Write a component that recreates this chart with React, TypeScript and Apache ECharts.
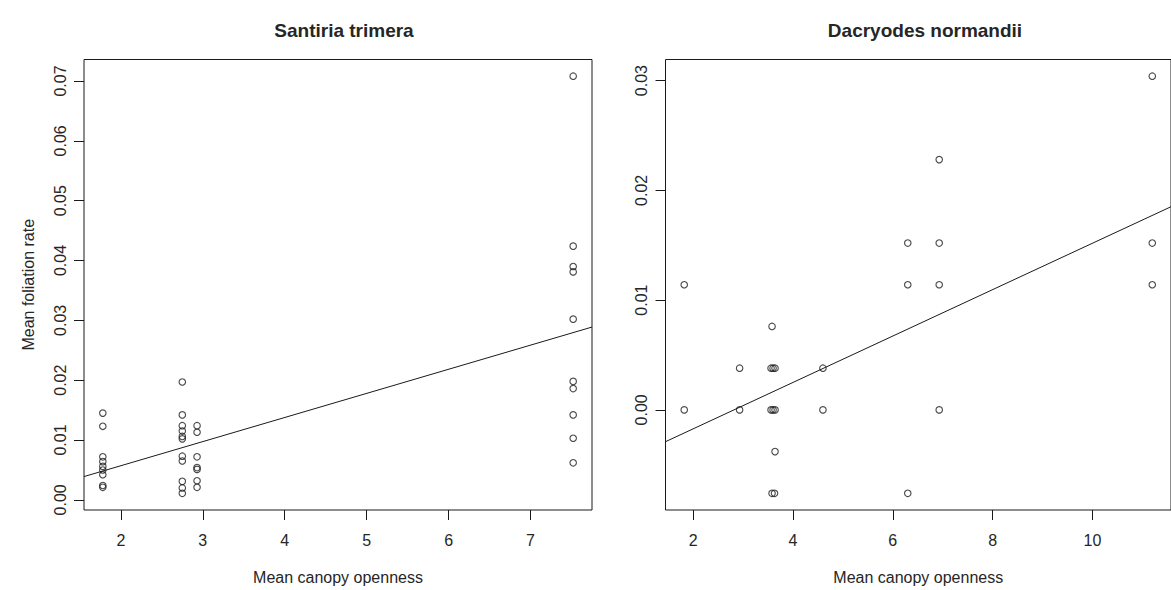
import React, { useEffect, useRef } from "react";
import * as echarts from "echarts";

// Santiria trimera
const santiriaOpenness = [
  1.78, 1.78, 1.78, 1.78, 1.78, 1.78, 1.78, 1.78, 1.78,
  2.75, 2.75, 2.75, 2.75, 2.75, 2.75, 2.75, 2.75, 2.75, 2.75, 2.75,
  2.93, 2.93, 2.93, 2.93, 2.93, 2.93, 2.93,
  7.52, 7.52, 7.52, 7.52, 7.52, 7.52, 7.52, 7.52, 7.52, 7.52,
];
const santiriaFoliation = [
  0.0145, 0.0123, 0.0072, 0.0064, 0.0056, 0.005, 0.0042, 0.0024, 0.0021,
  0.0197, 0.0142, 0.0124, 0.0115, 0.0106, 0.0102, 0.0073, 0.0065, 0.0031, 0.002, 0.0011,
  0.0124, 0.0113, 0.0072, 0.0054, 0.0051, 0.0032, 0.0021,
  0.0708, 0.0424, 0.039, 0.0381, 0.0302, 0.0198, 0.0186, 0.0142, 0.0103, 0.0062,
];
const santiriaFit = [-0.00235, 0.00403]; // intercept, slope
const santiriaXTicks = [2, 3, 4, 5, 6, 7];
const santiriaYTicks = [0, 0.01, 0.02, 0.03, 0.04, 0.05, 0.06, 0.07];

// Dacryodes normandii
const dacryodesOpenness = [
  1.82, 1.82, 2.93, 2.93, 3.56, 3.6, 3.64, 3.56, 3.6, 3.64, 3.64, 3.58, 3.63, 3.58,
  4.6, 4.6, 6.3, 6.3, 6.3, 6.93, 6.93, 6.93, 6.93, 11.2, 11.2, 11.2,
];
const dacryodesFoliation = [
  0.0114, 0, 0.0038, 0, 0.0038, 0.0038, 0.0038, 0, 0, 0, -0.0038, -0.0076, -0.0076, 0.0076,
  0.0038, 0, 0.0152, 0.0114, -0.0076, 0.0228, 0.0152, 0.0114, 0, 0.0304, 0.0152, 0.0114,
];
const dacryodesFit = [-0.00595, 0.002113];
const dacryodesXTicks = [2, 4, 6, 8, 10];
const dacryodesYTicks = [0, 0.01, 0.02, 0.03];

const titles = ["Santiria trimera", "Dacryodes normandii"];
const xTitle = "Mean canopy openness";
const yTitle = "Mean foliation rate";

function rRange(v: number[]): [number, number] {
  const lo = Math.min(...v);
  const hi = Math.max(...v);
  const d = (hi - lo) * 0.04;
  return [lo - d, hi + d];
}

const FONT = "Liberation Sans, Arial, sans-serif";
const INK = "#1a1a1a";
const TXT = "#262626";

export default function App() {
  const ref = useRef<HTMLDivElement>(null);
  useEffect(() => {
    if (!ref.current) return;
    const chart = echarts.init(ref.current, null, { renderer: "svg" });
    const panels = [
      { x: santiriaOpenness, y: santiriaFoliation, fit: santiriaFit, xt: santiriaXTicks, yt: santiriaYTicks },
      { x: dacryodesOpenness, y: dacryodesFoliation, fit: dacryodesFit, xt: dacryodesXTicks, yt: dacryodesYTicks },
    ];
    const grids = [
      { left: 84, top: 59.5, width: 508, height: 452.5 },
      { left: 665.5, top: 59.5, width: 508.5, height: 452.5 },
    ];
    const xAxis: any[] = [];
    const yAxis: any[] = [];
    const series: any[] = [];
    panels.forEach((p, i) => {
      const [xmin, xmax] = rRange(p.x);
      const [ymin, ymax] = rRange(p.y);
      xAxis.push({
        type: "value",
        gridIndex: i,
        min: xmin,
        max: xmax,
        name: xTitle,
        nameLocation: "middle",
        nameGap: 59,
        nameTextStyle: { fontFamily: FONT, fontSize: 16, color: TXT },
        axisLine: { show: false, onZero: false },
        splitLine: { show: false },
        axisTick: { show: true, length: 10, lineStyle: { color: INK }, customValues: p.xt },
        axisLabel: {
          show: true,
          margin: 22,
          fontFamily: FONT,
          fontSize: 16,
          color: TXT,
          customValues: p.xt,
          formatter: (v: number) => String(v),
        },
      });
      yAxis.push({
        type: "value",
        gridIndex: i,
        min: ymin,
        max: ymax,
        name: i === 0 ? yTitle : "",
        nameLocation: "middle",
        nameGap: 48,
        nameRotate: 90,
        nameTextStyle: { fontFamily: FONT, fontSize: 16, color: TXT },
        axisLine: { show: false, onZero: false },
        splitLine: { show: false },
        axisTick: { show: true, length: 10, lineStyle: { color: INK }, customValues: p.yt },
        axisLabel: {
          show: true,
          rotate: 90,
          margin: 16,
          fontFamily: FONT,
          fontSize: 16,
          color: TXT,
          customValues: p.yt,
          formatter: (v: number) => v.toFixed(2),
        },
      });
      series.push({
        type: "scatter",
        xAxisIndex: i,
        yAxisIndex: i,
        symbol: "circle",
        symbolSize: 6.5,
        itemStyle: { color: "rgba(0,0,0,0)", borderColor: INK, borderWidth: 1.1 },
        data: p.x.map((xv, k) => [xv, p.y[k]]),
        silent: true,
      });
      series.push({
        type: "line",
        xAxisIndex: i,
        yAxisIndex: i,
        showSymbol: false,
        symbol: "none",
        clip: true,
        lineStyle: { color: INK, width: 1 },
        data: [xmin, xmax].map((xv) => [xv, p.fit[0] + p.fit[1] * xv]),
        silent: true,
      });
    });
    chart.setOption({
      animation: false,
      backgroundColor: "#ffffff",
      title: titles.map((t, i) => ({
        text: t,
        left: i === 0 ? 339 : 920,
        top: 16,
        textAlign: "center",
        textStyle: { fontFamily: FONT, fontSize: 19, fontWeight: "bold", color: TXT },
      })),
      grid: grids.map((g) => ({ ...g, show: true, borderColor: INK, borderWidth: 1, backgroundColor: "transparent" })),
      xAxis,
      yAxis,
      series,
    });
    return () => chart.dispose();
  }, []);
  return (
    <div
      ref={ref}
      style={{ position: "fixed", left: 0, top: 0, width: 1171, height: 590, background: "#fff" }}
    />
  );
}
